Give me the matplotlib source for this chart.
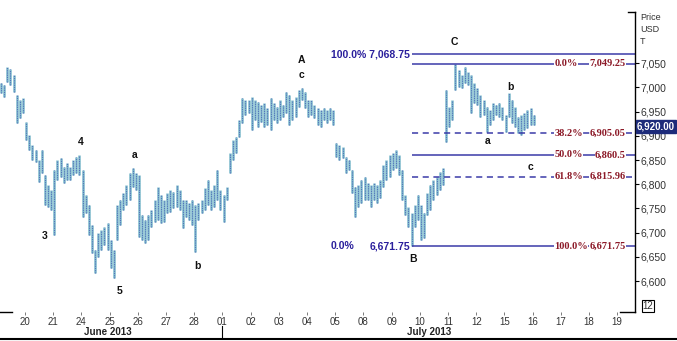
import matplotlib
matplotlib.use("Agg")
import matplotlib.pyplot as plt
import numpy as np

plt.rcParams['font.family'] = ['Liberation Sans', 'DejaVu Sans']

# hourly-ish bars, 9 per trading day, first bar at day -0.85
bar_start = -0.85
bars_per_day = 9

highs = [7009, 7005, 7042, 7038, 7026, 6985, 6974, 6978, 6929, 6902,
         6881, 6871, 6850, 6871, 6819, 6799, 6788, 6829, 6850, 6854,
         6836, 6844, 6836, 6850, 6856, 6861, 6829, 6778, 6757, 6716,
         6664, 6699, 6705, 6712, 6720, 6685, 6664, 6757, 6768, 6782,
         6799, 6823, 6834, 6823, 6819, 6736, 6726, 6736, 6747, 6768,
         6794, 6778, 6768, 6782, 6788, 6784, 6799, 6788, 6768, 6768,
         6761, 6768, 6757, 6761, 6768, 6792, 6809, 6788, 6799, 6829,
         6788, 6778, 6794, 6865, 6892, 6898, 6933, 6978, 6974, 6974,
         6980, 6974, 6970, 6964, 6968, 6958, 6978, 6968, 6960, 6974,
         6964, 6991, 6985, 6974, 6980, 6995, 6999, 6991, 6974, 6974,
         6964, 6958, 6954, 6958, 6954, 6958, 6954, 6885, 6881, 6877,
         6856, 6850, 6829, 6794, 6799, 6809, 6815, 6803, 6799, 6803,
         6799, 6809, 6840, 6850, 6861, 6865, 6871, 6861, 6829, 6778,
         6753, 6740, 6757, 6778, 6757, 6740, 6782, 6799, 6809, 6815,
         6825, 6834, 6995, 6960, 6974, 7049, 7036, 7026, 7042, 7032,
         7026, 7009, 6999, 6985, 6974, 6960, 6954, 6968, 6964, 6968,
         6960, 6943, 6989, 6974, 6960, 6939, 6943, 6947, 6954, 6958,
         6943]
lows = [6989, 6980, 7011, 7005, 6991, 6927, 6937, 6947, 6892, 6871,
        6850, 6846, 6805, 6823, 6757, 6753, 6747, 6695, 6809, 6815,
        6803, 6809, 6809, 6819, 6823, 6819, 6732, 6740, 6695, 6658,
        6616, 6650, 6664, 6674, 6664, 6627, 6606, 6685, 6716, 6747,
        6757, 6768, 6794, 6788, 6691, 6685, 6678, 6685, 6712, 6722,
        6726, 6720, 6722, 6740, 6743, 6751, 6753, 6747, 6710, 6732,
        6726, 6716, 6660, 6726, 6740, 6747, 6757, 6747, 6753, 6768,
        6747, 6722, 6768, 6823, 6850, 6865, 6898, 6927, 6943, 6947,
        6912, 6933, 6919, 6929, 6919, 6923, 6912, 6933, 6927, 6933,
        6939, 6947, 6923, 6933, 6939, 6960, 6974, 6958, 6939, 6943,
        6937, 6923, 6919, 6933, 6927, 6933, 6923, 6856, 6850, 6854,
        6823, 6829, 6782, 6732, 6753, 6761, 6768, 6768, 6753, 6768,
        6761, 6772, 6794, 6809, 6815, 6829, 6834, 6819, 6768, 6736,
        6712, 6672, 6712, 6726, 6685, 6689, 6736, 6747, 6768, 6778,
        6788, 6799, 6887, 6919, 6933, 6995, 7001, 6999, 7009, 7005,
        6947, 6968, 6964, 6939, 6943, 6908, 6923, 6933, 6943, 6939,
        6933, 6908, 6939, 6927, 6919, 6906, 6902, 6912, 6917, 6923,
        6923]

day_labels = ['20', '21', '24', '25', '26', '27', '28', '01', '02', '03', '04',
              '05', '08', '09', '10', '11', '12', '15', '16', '17', '18', '19']
price_ticks = [6600, 6650, 6700, 6750, 6800, 6850, 6900, 6950, 7000, 7050]

fib_levels = [7068.75, 7049.25, 6905.05, 6860.5, 6815.96, 6671.75]
fib_pcts = [None, '0.0%', '38.2%', '50.0%', '61.8%', '100.0%']
fib_vals = [None, '7,049.25', '6,905.05', '6,860.5', '6,815.96', '6,671.75']
fib_dashed = [False, False, True, False, True, False]

# wave counts: (label, day, price)
waves = [('3', 0.71, 6693), ('4', 1.99, 6887), ('5', 3.37, 6580),
         ('a', 3.90, 6861), ('b', 6.13, 6631), ('A', 9.79, 7056),
         ('c', 9.79, 7026), ('B', 13.76, 6646), ('C', 15.21, 7094),
         ('b', 17.20, 7001), ('a', 16.42, 6889), ('c', 17.94, 6836)]

last_price = 6920.00

W, H = 677, 341
fig = plt.figure(figsize=(W / 100, H / 100), dpi=100)
ax = fig.add_axes([0, 1 - 312 / H, 635 / W, 300 / H])

x = bar_start + np.arange(len(highs)) / bars_per_day
ax.vlines(x, lows, highs, color='#7dbccc', lw=1.8)
ax.vlines(x, lows, highs, color='#5570bb', lw=0.8, linestyles=(0, (1, 1)))

xmin, xmax = -0.887, 21.63
ax.set_xlim(xmin, xmax)
ax.set_ylim(6536, 7156)

b_day = x[131]
fib_col = '#3a3aa8'
red = '#8c1a28'
for lvl, pct, val, dsh in zip(fib_levels, fib_pcts, fib_vals, fib_dashed):
    ax.hlines(lvl, b_day, xmax, color=fib_col, lw=1.1,
              linestyles=(0, (4, 3)) if dsh else '-')
    if pct:
        ax.text(18.77, lvl, pct, ha='left', va='center', color=red,
                fontsize=7.5, fontweight='bold', family='Liberation Serif',
                bbox=dict(facecolor='white', edgecolor='none', pad=0.2))
        ax.text(21.3, lvl, val, ha='right', va='center', color=red,
                fontsize=7.5, fontweight='bold', family='Liberation Serif',
                bbox=dict(facecolor='white', edgecolor='none', pad=0.2))

navy = '#2a1f9c'
ax.text(13.65, 7068.75, '100.0% 7,068.75', ha='right', va='center',
        color=navy, fontsize=7.5, fontweight='bold')
ax.text(10.82, 6671.75, '0.0%', ha='left', va='center',
        color=navy, fontsize=7.5, fontweight='bold')
ax.text(13.65, 6671.75, '6,671.75', ha='right', va='center',
        color=navy, fontsize=7.5, fontweight='bold')

for lab, d, p in waves:
    ax.text(d, p, lab, ha='center', va='center', fontsize=7.5,
            fontweight='bold', color='#111111')

# axes styling
for s in ['top', 'left', 'bottom']:
    ax.spines[s].set_visible(False)
ax.spines['right'].set_linewidth(1.0)
ax.yaxis.tick_right()
ax.set_yticks(price_ticks)
ax.set_yticklabels([f'{p:,}' for p in price_ticks])
ax.tick_params(axis='y', length=3, width=0.8, labelsize=7.5,
               labelcolor='#333333', pad=1)
ax.set_xticks(range(len(day_labels)))
ax.set_xticklabels(day_labels)
ax.tick_params(axis='x', length=2, width=0.6, labelsize=7,
               labelcolor='#333333', pad=1.5, color='#666666')

# little axis stubs
ax.plot([0.989, 1.0], [1, 1], transform=ax.transAxes, color='black',
        lw=1, clip_on=False)
ax.plot([0.977, 1.0], [0, 0], transform=ax.transAxes, color='black',
        lw=1, clip_on=False)
ax.plot([0, 0.019], [0, 0], transform=ax.transAxes, color='black',
        lw=1, clip_on=False)

ax.annotate(f'{last_price:,.2f}', xy=(1.0, last_price),
            xycoords=('axes fraction', 'data'), xytext=(1.5, 0),
            textcoords='offset points', ha='left', va='center',
            color='white', fontsize=7, fontweight='bold',
            bbox=dict(facecolor='#1d2b7a', edgecolor='#1d2b7a', pad=1.0),
            annotation_clip=False)

for i, t in enumerate(['Price', 'USD', 'T']):
    fig.text(640 / W, 1 - (18 + 12 * i) / H, t, ha='left', va='center',
             fontsize=6.5, color='#333333')
fig.text(648 / W, 1 - 306 / H, '12', ha='center', va='center', fontsize=7,
         color='#333333',
         bbox=dict(facecolor='white', edgecolor='black', pad=0.8, lw=0.8))

fig.text(108 / W, 1 - 332 / H, 'June 2013', ha='center', va='center',
         fontsize=7, fontweight='bold', color='#222222')
fig.text(429 / W, 1 - 332 / H, 'July 2013', ha='center', va='center',
         fontsize=7, fontweight='bold', color='#222222')
fig.add_artist(plt.Line2D([222 / W, 222 / W], [1 - 326 / H, 1 - 337 / H],
                          color='black', lw=0.8))
fig.add_artist(plt.Line2D([0, 1], [1 - 338.5 / H, 1 - 338.5 / H],
                          color='black', lw=1.5))

fig.savefig('out.png', dpi=100)
